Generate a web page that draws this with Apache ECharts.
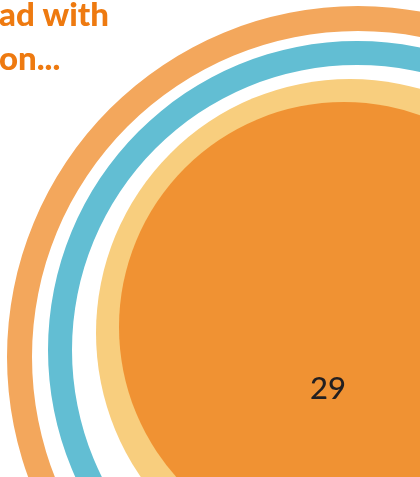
<!DOCTYPE html>
<html>
<head>
<meta charset="utf-8">
<script src="https://cdn.jsdelivr.net/npm/echarts@6/dist/echarts.min.js"></script>
<style>
html,body{margin:0;padding:0;background:#fff;}
#chart{width:420px;height:477px;}
</style>
</head>
<body>
<div id="chart"></div>
<script>
// Data
var ringNames = ['Outer', 'Middle', 'Inner', 'Core'];
var ringValues = [1, 1, 1, 29];
var titleLines = ['ad with', 'on...'];
var coreLabel = [29];

var colors = ['#F3A75C', '#62BED3', '#F8CE7E', '#F09233'];
// geometry (px): [cx, cy, innerR, outerR]
var geo = [
  [358, 357, 326, 351],
  [357, 350, 285, 309],
  [350, 333, 0, 254],
  [344, 327, 0, 225]
];

var series = ringNames.map(function (name, i) {
  return {
    type: 'pie',
    name: name,
    silent: true,
    animation: false,
    center: [geo[i][0], geo[i][1]],
    radius: [geo[i][2], geo[i][3]],
    label: { show: false },
    labelLine: { show: false },
    emphasis: { disabled: true },
    itemStyle: { color: colors[i], borderWidth: 0 },
    z: i,
    data: [{ name: name, value: ringValues[i] }]
  };
});

var chart = echarts.init(document.getElementById('chart'), null, { renderer: 'canvas' });
chart.setOption({
  backgroundColor: '#ffffff',
  animation: false,
  title: {
    text: titleLines.join('\n'),
    left: -1,
    top: -7,
    padding: 0,
    textStyle: {
      fontFamily: 'Lato',
      fontWeight: 900,
      fontSize: 33,
      lineHeight: 44,
      color: '#EE7A10'
    }
  },
  graphic: [{
    type: 'text',
    x: 328,
    y: 389,
    z: 100,
    style: {
      text: String(coreLabel[0]),
      fontFamily: 'Lato',
      fontWeight: 500,
      fontSize: 31,
      fill: '#231F20',
      align: 'center',
      verticalAlign: 'middle'
    }
  }],
  series: series
});
</script>
</body>
</html>
